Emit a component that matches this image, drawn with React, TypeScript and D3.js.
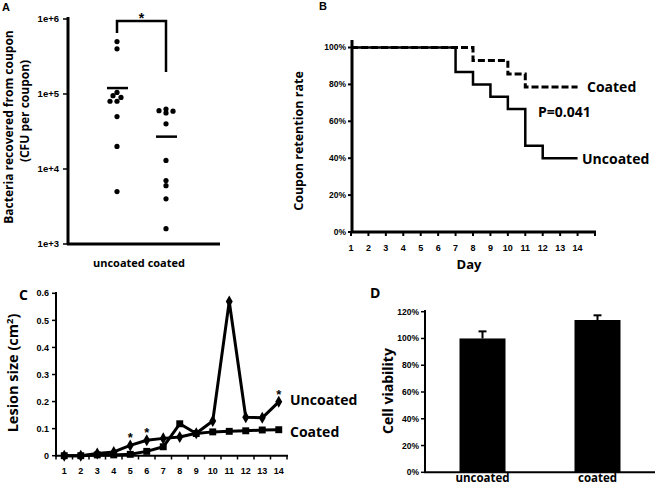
import React from 'react';
import * as d3 from 'd3';

// panel A: bacteria recovered (CFU per coupon), log scale
const groups = ['uncoated', 'coated'];
const uncoatedCfu = [5.0e5, 4.0e5, 1.05e5, 9.5e4, 9.0e4, 8.0e4, 8.0e4, 5.0e4, 2.0e4, 5.0e3];
const coatedCfu = [6.3e4, 6.0e4, 5.9e4, 5.6e4, 4.0e4, 1.3e4, 7.0e3, 6.0e3, 4.0e3, 1.6e3];
const cfuMeans = [1.2e5, 2.7e4];
const cfuTicks = [1e3, 1e4, 1e5, 1e6];

// panel B: coupon retention (Kaplan-Meier style steps)
const retentionTicks = [0, 0.2, 0.4, 0.6, 0.8, 1.0];
const dayLabels = [1, 2, 3, 4, 5, 6, 7, 8, 9, 10, 11, 12, 13, 14];
const dayTicks = [1, 2, 3, 4, 5, 6, 7, 8, 9, 10, 11, 12, 13, 14, 15];
const survDaysUncoated = [1, 7, 8, 9, 10, 11, 12, 14];
const survUncoated = [1, 0.867, 0.8, 0.733, 0.667, 0.467, 0.4, 0.4];
const survDaysCoated = [1, 8, 10, 11, 14];
const survCoated = [1, 0.929, 0.857, 0.786, 0.786];

// panel C: lesion size (cm2)
const lesionDays = [1, 2, 3, 4, 5, 6, 7, 8, 9, 10, 11, 12, 13, 14];
const lesionUncoated = [0, 0, 0.008, 0.014, 0.038, 0.057, 0.064, 0.069, 0.083, 0.128, 0.57, 0.142, 0.14, 0.199];
const lesionCoated = [0, 0, 0.003, 0.003, 0.005, 0.016, 0.033, 0.118, 0.082, 0.088, 0.09, 0.092, 0.095, 0.096];
const lesionTicks = [0, 0.1, 0.2, 0.3, 0.4, 0.5, 0.6];
const starDays = [5, 6, 14];

// panel D: cell viability
const viability = [1.0, 1.138];
const viabilityErr = [0.053, 0.035];
const viabilityTicks = [0, 0.2, 0.4, 0.6, 0.8, 1.0, 1.2];

const TICK_FONT = '"Liberation Sans", Arial, sans-serif';
const TITLE_FONT = '"Open Sans", "Liberation Sans", sans-serif';

const pct = d3.format('.0%');

export default function App() {
  // ---- A scales
  const yA = d3.scaleLog().domain([1e3, 1e6]).range([244, 19]);
  const xA = d3.scalePoint().domain(groups).range([117, 166]);

  const swarm = (values: number[], cx: number) => {
    const placed: [number, number][] = [];
    return values.map(v => {
      const y = yA(v);
      let x = cx;
      for (const o of [0, -4, 4, -7, 7]) {
        if (placed.every(p => Math.hypot(p[0] - (cx + o), p[1] - y) >= 4.6)) { x = cx + o; break; }
      }
      placed.push([x, y]);
      return [x, y];
    });
  };
  const dotsA = [
    ...swarm(uncoatedCfu, xA('uncoated')!),
    ...swarm(coatedCfu, xA('coated')!),
  ];

  // ---- B scales
  const xB = d3.scaleLinear().domain([1, 15]).range([351, 595]);
  const yB = d3.scaleLinear().domain([0, 1]).range([232, 47.5]);
  const stepLine = d3.line<[number, number]>()
    .x(d => xB(d[0])).y(d => yB(d[1])).curve(d3.curveStepAfter);
  const uncoatedSteps = survDaysUncoated.map((d, i) => [d, survUncoated[i]] as [number, number]);
  const coatedSteps = survDaysCoated.map((d, i) => [d, survCoated[i]] as [number, number]);

  // ---- C scales
  const xC = d3.scaleBand<number>().domain(lesionDays).range([56, 287]);
  const yC = d3.scaleLinear().domain([0, 0.6]).range([455.7, 293.3]);
  const cx = (d: number) => xC(d)! + xC.bandwidth() / 2;
  const lesionLine = d3.line<number>().x((_, i) => cx(lesionDays[i])).y(d => yC(d));
  const diamond = d3.symbol(d3.symbolDiamond, 42)()!;
  const square = d3.symbol(d3.symbolSquare, 48)()!;

  // ---- D scales
  const xD = d3.scaleBand().domain(groups).range([425, 655]);
  const yD = d3.scaleLinear().domain([0, 1.2]).range([472.3, 311.7]);
  const barW = xD.bandwidth() * 0.4;

  return (
    <svg width={660} height={485} style={{ position: 'absolute', left: 0, top: 0, background: '#fff' }}>
      {/* ================= A ================= */}
      <text x={2} y={11} fontFamily={TICK_FONT} fontWeight="bold" fontSize={11}>A</text>
      <g fontFamily={TITLE_FONT} fontWeight="bold" fontSize={12} textAnchor="middle">
        <text transform="translate(13,127) rotate(-90)">Bacteria recovered from coupon</text>
        <text transform="translate(29,111) rotate(-90)">(CFU per coupon)</text>
      </g>
      <line x1={68} x2={68} y1={17} y2={245} stroke="#000" strokeWidth={3} />
      <line x1={67} x2={220} y1={244} y2={244} stroke="#000" strokeWidth={3} />
      {cfuTicks.map(t => (
        <g key={t}>
          <line x1={63} x2={68} y1={yA(t)} y2={yA(t)} stroke="#000" strokeWidth={1.5} />
          <text x={59} y={yA(t)} dy="0.35em" textAnchor="end" fontFamily={TICK_FONT}
            fontWeight="bold" fontSize={9.5}>{`1e+${Math.log10(t)}`}</text>
        </g>
      ))}
      {dotsA.map((p, i) => <circle key={i} cx={p[0]} cy={p[1]} r={2.6} fill="#000" />)}
      {groups.map((g, i) => (
        <line key={g} x1={xA(g)! - 10} x2={xA(g)! + 11} y1={yA(cfuMeans[i])} y2={yA(cfuMeans[i])}
          stroke="#000" strokeWidth={2.5} />
      ))}
      <path d={`M${xA('uncoated')},33V21H${xA('coated')}V72`} fill="none" stroke="#000" strokeWidth={2.5} />
      <text x={(xA('uncoated')! + xA('coated')!) / 2} y={23} textAnchor="middle" fontFamily={TICK_FONT}
        fontWeight="bold" fontSize={14}>*</text>
      <text x={139} y={267} textAnchor="middle" fontFamily={TITLE_FONT} fontWeight="bold" fontSize={11}>
        uncoated coated
      </text>

      {/* ================= B ================= */}
      <text x={319} y={10} fontFamily={TICK_FONT} fontWeight="bold" fontSize={11}>B</text>
      <text transform="translate(303,141) rotate(-90)" textAnchor="middle" fontFamily={TITLE_FONT}
        fontWeight="bold" fontSize={12.5}>Coupon retention rate</text>
      <line x1={352} x2={352} y1={40} y2={233} stroke="#000" strokeWidth={3} />
      <line x1={351} x2={596} y1={232} y2={232} stroke="#000" strokeWidth={3} />
      {retentionTicks.map(t => (
        <g key={t}>
          <line x1={348} x2={352} y1={yB(t)} y2={yB(t)} stroke="#000" strokeWidth={2} />
          <text x={346} y={yB(t)} dy="0.35em" textAnchor="end" fontFamily={TICK_FONT}
            fontWeight="bold" fontSize={8.5}>{pct(t)}</text>
        </g>
      ))}
      {dayTicks.map(d => (
        <line key={d} x1={xB(d)} x2={xB(d)} y1={232} y2={236} stroke="#000" strokeWidth={2} />
      ))}
      {dayLabels.map(d => (
        <text key={d} x={xB(d)} y={251} textAnchor="middle" fontFamily={TICK_FONT}
          fontWeight="bold" fontSize={9}>{d}</text>
      ))}
      <path d={stepLine(coatedSteps)!} fill="none" stroke="#000" strokeWidth={3} strokeDasharray="7,3" />
      <path d={stepLine(uncoatedSteps)!} fill="none" stroke="#000" strokeWidth={2.5} />
      <g fontFamily={TITLE_FONT} fontWeight="bold" fontSize={14}>
        <text x={587} y={92}>Coated</text>
        <text x={538} y={117}>P=0.041</text>
        <text x={582} y={164}>Uncoated</text>
      </g>
      <text x={469} y={269} textAnchor="middle" fontFamily={TITLE_FONT} fontWeight="bold" fontSize={13}>Day</text>

      {/* ================= C ================= */}
      <text x={19} y={300} fontFamily={TITLE_FONT} fontWeight="bold" fontSize={14}>C</text>
      <text transform="translate(18,373) rotate(-90)" textAnchor="middle" fontFamily={TITLE_FONT}
        fontWeight="bold" fontSize={14.5}>
        Lesion size (cm<tspan dy={-5} fontSize={9.5}>2</tspan><tspan dy={5}>)</tspan>
      </text>
      <line x1={56} x2={56} y1={292} y2={457} stroke="#000" strokeWidth={2} />
      <line x1={55} x2={288} y1={455.7} y2={455.7} stroke="#000" strokeWidth={2} />
      {lesionTicks.map(t => (
        <g key={t}>
          <line x1={52} x2={56} y1={yC(t)} y2={yC(t)} stroke="#000" strokeWidth={1.5} />
          <text x={49} y={yC(t)} dy="0.35em" textAnchor="end" fontFamily={TICK_FONT}
            fontWeight="bold" fontSize={9}>{t}</text>
        </g>
      ))}
      {lesionDays.map((d, i) => (
        <g key={d}>
          <line x1={xC(d)! + xC.bandwidth()} x2={xC(d)! + xC.bandwidth()} y1={455.7} y2={459.5}
            stroke="#000" strokeWidth={1.5} />
          {i === 0 && <line x1={xC(d)!} x2={xC(d)!} y1={455.7} y2={459.5} stroke="#000" strokeWidth={1.5} />}
          <text x={cx(d)} y={474} textAnchor="middle" fontFamily={TICK_FONT} fontWeight="bold" fontSize={9}>{d}</text>
        </g>
      ))}
      <path d={lesionLine(lesionCoated)!} fill="none" stroke="#000" strokeWidth={3} strokeLinejoin="round" />
      {lesionCoated.map((v, i) => (
        <path key={i} d={square} transform={`translate(${cx(lesionDays[i])},${yC(v)})`} fill="#000" />
      ))}
      <path d={lesionLine(lesionUncoated)!} fill="none" stroke="#000" strokeWidth={3} strokeLinejoin="round" />
      {lesionUncoated.map((v, i) => (
        <path key={i} d={diamond} transform={`translate(${cx(lesionDays[i])},${yC(v)})`} fill="#000" />
      ))}
      {starDays.map(d => (
        <text key={d} x={cx(d)} y={yC(lesionUncoated[lesionDays.indexOf(d)]) - 3} textAnchor="middle"
          fontFamily={TICK_FONT} fontWeight="bold" fontSize={13}>*</text>
      ))}
      <g fontFamily={TITLE_FONT} fontWeight="bold" fontSize={14}>
        <text x={290} y={405}>Uncoated</text>
        <text x={290} y={437}>Coated</text>
      </g>

      {/* ================= D ================= */}
      <text x={370} y={298} fontFamily={TITLE_FONT} fontWeight="bold" fontSize={14}>D</text>
      <text transform="translate(393,391) rotate(-90)" textAnchor="middle" fontFamily={TITLE_FONT}
        fontWeight="bold" fontSize={14}>Cell viability</text>
      <line x1={425} x2={425} y1={310} y2={473} stroke="#000" strokeWidth={2} />
      <line x1={424} x2={655} y1={472.3} y2={472.3} stroke="#000" strokeWidth={2} />
      {viabilityTicks.map(t => (
        <g key={t}>
          <line x1={421} x2={425} y1={yD(t)} y2={yD(t)} stroke="#000" strokeWidth={1.5} />
          <text x={419} y={yD(t)} dy="0.35em" textAnchor="end" fontFamily={TICK_FONT}
            fontWeight="bold" fontSize={8.5}>{pct(t)}</text>
        </g>
      ))}
      {groups.map((g, i) => {
        const mid = xD(g)! + xD.bandwidth() / 2;
        return (
          <g key={g}>
            <line x1={mid} x2={mid} y1={yD(viability[i])} y2={yD(viability[i] + viabilityErr[i])}
              stroke="#000" strokeWidth={2} />
            <line x1={mid - 4} x2={mid + 4} y1={yD(viability[i] + viabilityErr[i])}
              y2={yD(viability[i] + viabilityErr[i])} stroke="#000" strokeWidth={2} />
            <rect x={mid - barW / 2} y={yD(viability[i])} width={barW}
              height={yD(0) - yD(viability[i])} fill="#000" />
            <text x={mid} y={482} textAnchor="middle" fontFamily={TITLE_FONT} fontWeight="bold" fontSize={11.5}>{g}</text>
          </g>
        );
      })}
    </svg>
  );
}
